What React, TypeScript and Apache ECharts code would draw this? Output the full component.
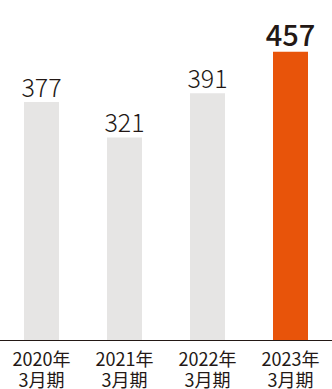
import React, { useEffect, useRef } from "react";
import * as echarts from "echarts";

const categories = ["2020年\n3月期", "2021年\n3月期", "2022年\n3月期", "2023年\n3月期"];
const values = [377, 321, 391, 457];
const highlightIndex = 3;

const FONT = "'Noto Sans CJK JP', 'Noto Sans', sans-serif";

export default function App() {
  const ref = useRef<HTMLDivElement>(null);
  useEffect(() => {
    document.body.style.margin = "0";
    const chart = echarts.init(ref.current!, null, { renderer: "svg" });
    chart.setOption({
      animation: false,
      grid: { left: 0, right: 0, top: 24.5, bottom: 48, containLabel: false },
      xAxis: {
        type: "category",
        data: categories,
        axisLine: { lineStyle: { color: "#231815", width: 1 } },
        axisTick: { show: false },
        axisLabel: {
          color: "#231815",
          fontFamily: FONT,
          fontSize: 18,
          lineHeight: 21,
          margin: 7,
          interval: 0,
        },
      },
      yAxis: {
        type: "value",
        min: 0,
        max: 500,
        show: false,
        splitLine: { show: false },
      },
      series: [
        {
          type: "bar",
          barWidth: 35,
          data: values.map((v, i) => ({
            value: v,
            itemStyle: { color: i === highlightIndex ? "#e8540a" : "#e6e5e4" },
            label:
              i === highlightIndex
                ? { fontSize: 29, fontWeight: 500, distance: 4 }
                : { fontSize: 25, fontWeight: 300, distance: 4 },
          })),
          label: {
            show: true,
            position: "top",
            color: "#231815",
            fontFamily: FONT,
          },
        },
      ],
    });
    return () => chart.dispose();
  }, []);
  return <div ref={ref} style={{ width: 332, height: 389 }} />;
}
